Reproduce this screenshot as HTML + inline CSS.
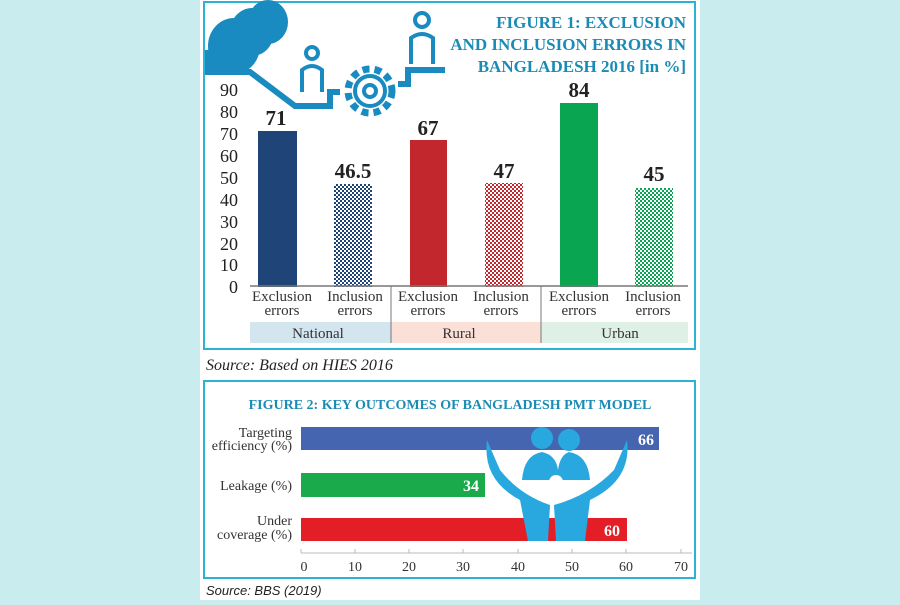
<!DOCTYPE html>
<html><head><meta charset="utf-8"><style>
body{margin:0;background:#c9ecef;width:900px;height:600px;overflow:hidden;font-family:"Liberation Serif",serif}
</style></head><body>
<svg width="900" height="600" xmlns="http://www.w3.org/2000/svg" font-family="Liberation Serif, serif">
<defs>
<pattern id="pn" width="4" height="4" patternUnits="userSpaceOnUse"><rect width="4" height="4" fill="#fff"/><rect width="2" height="2" fill="#1f4478"/><rect x="2" y="2" width="2" height="2" fill="#1f4478"/></pattern>
<pattern id="pr" width="4" height="4" patternUnits="userSpaceOnUse"><rect width="4" height="4" fill="#fff"/><rect width="2" height="2" fill="#c1272d"/><rect x="2" y="2" width="2" height="2" fill="#c1272d"/></pattern>
<pattern id="pg" width="4" height="4" patternUnits="userSpaceOnUse"><rect width="4" height="4" fill="#fff"/><rect width="2" height="2" fill="#0aa550"/><rect x="2" y="2" width="2" height="2" fill="#0aa550"/></pattern>
</defs>
<rect x="200" y="0" width="500" height="600" fill="#fff"/>
<rect x="204" y="2" width="491" height="347" fill="#fff" stroke="#2bb3d6" stroke-width="2"/>
<g fill="#1a8bc0">
<ellipse cx="268" cy="22" rx="20" ry="22"/><ellipse cx="252" cy="32" rx="22" ry="24"/><ellipse cx="234" cy="46" rx="26" ry="28"/>
<rect x="205" y="50" width="40" height="25"/>
</g>
<path d="M205 72 L250 72 L295 106 L330 106 L330 92 L340 92" stroke="#1a8bc0" stroke-width="6" fill="none"/>
<path d="M398 84 L408 84 L408 70 L445 70" stroke="#1a8bc0" stroke-width="6" fill="none"/>
<g stroke="#1a8bc0" stroke-width="4" fill="none">
<circle cx="312" cy="53" r="6"/><path d="M302 92 V70 Q312 62 322 70 V92"/>
<circle cx="422" cy="20" r="7"/><path d="M411 64 V38 Q422 30 433 38 V64"/>
<circle cx="370" cy="91" r="22" stroke-width="7" stroke-dasharray="7 5"/><circle cx="370" cy="91" r="15"/><circle cx="370" cy="91" r="6"/>
</g>
<g fill="#1a8bb5" font-weight="bold" font-size="17" text-anchor="end">
<text x="686" y="28">FIGURE 1: EXCLUSION</text>
<text x="686" y="50">AND INCLUSION ERRORS IN</text>
<text x="686" y="72">BANGLADESH 2016 [in %]</text>
</g>
<g font-size="18" fill="#222" text-anchor="end">
<text x="238" y="96">90</text><text x="238" y="118">80</text><text x="238" y="140">70</text><text x="238" y="162">60</text><text x="238" y="184">50</text><text x="238" y="206">40</text><text x="238" y="228">30</text><text x="238" y="250">20</text><text x="238" y="271">10</text><text x="238" y="293">0</text>
</g>
<rect x="258" y="131" width="39" height="156" fill="#1f4478"/>
<rect x="334" y="184" width="38" height="103" fill="url(#pn)"/>
<rect x="410" y="140" width="37" height="147" fill="#c1272d"/>
<rect x="485" y="183" width="38" height="104" fill="url(#pr)"/>
<rect x="560" y="103" width="38" height="184" fill="#0aa550"/>
<rect x="635" y="188" width="38" height="99" fill="url(#pg)"/>
<g font-size="21" font-weight="bold" fill="#222" text-anchor="middle">
<text x="276" y="125">71</text><text x="353" y="178">46.5</text><text x="428" y="135">67</text><text x="504" y="178">47</text><text x="579" y="97">84</text><text x="654" y="181">45</text>
</g>
<line x1="250" y1="286" x2="688" y2="286" stroke="#777" stroke-width="1.5"/>
<rect x="250" y="322" width="141" height="21" fill="#d3e5ee"/>
<rect x="391" y="322" width="150" height="21" fill="#fbe0d8"/>
<rect x="541" y="322" width="147" height="21" fill="#dff0e6"/>
<line x1="391" y1="286" x2="391" y2="343" stroke="#777"/><line x1="541" y1="286" x2="541" y2="343" stroke="#777"/>
<g font-size="15" fill="#333" text-anchor="middle">
<text x="282" y="301">Exclusion</text><text x="282" y="315">errors</text>
<text x="355" y="301">Inclusion</text><text x="355" y="315">errors</text>
<text x="428" y="301">Exclusion</text><text x="428" y="315">errors</text>
<text x="501" y="301">Inclusion</text><text x="501" y="315">errors</text>
<text x="579" y="301">Exclusion</text><text x="579" y="315">errors</text>
<text x="653" y="301">Inclusion</text><text x="653" y="315">errors</text>
<text x="318" y="338">National</text><text x="459" y="338">Rural</text><text x="620" y="338">Urban</text>
</g>
<text x="206" y="370" font-size="16" font-style="italic" fill="#222">Source: Based on HIES 2016</text>
<rect x="204" y="381" width="491" height="197" fill="#fff" stroke="#2bb3d6" stroke-width="2"/>
<text x="450" y="409" font-size="14" font-weight="bold" fill="#1a8bb5" text-anchor="middle">FIGURE 2: KEY OUTCOMES OF BANGLADESH PMT MODEL</text>
<rect x="301" y="427" width="358" height="23" fill="#4565b0"/>
<rect x="301" y="473" width="184" height="24" fill="#1aaa4b"/>
<rect x="301" y="518" width="326" height="23" fill="#e41e26"/>
<g fill="#29a8df">
<circle cx="542" cy="438" r="11"/><circle cx="569" cy="440" r="11"/>
<path d="M522 480 Q524 455 542 452 Q556 455 558 470 Q560 455 569 452 Q588 455 590 480 Z"/>
<path d="M487 440 Q482 480 520 500 L528 541 L548 541 L550 505 Q520 495 500 470 Z"/>
<path d="M627 440 Q632 480 590 500 L585 541 L556 541 L554 505 Q590 495 614 470 Z"/>
</g>
<circle cx="556" cy="482" r="7" fill="#fff"/>
<g font-size="16" font-weight="bold" fill="#fff" text-anchor="end">
<text x="654" y="445">66</text><text x="479" y="491">34</text><text x="620" y="536">60</text>
</g>
<g font-size="14" fill="#333" text-anchor="end">
<text x="292" y="437">Targeting</text><text x="292" y="450">efficiency (%)</text>
<text x="292" y="490">Leakage (%)</text>
<text x="292" y="525">Under</text><text x="292" y="539">coverage (%)</text>
</g>
<line x1="301" y1="553" x2="692" y2="553" stroke="#bbb"/>
<g stroke="#bbb"><line x1="301" y1="549" x2="301" y2="553"/><line x1="355" y1="549" x2="355" y2="553"/><line x1="409" y1="549" x2="409" y2="553"/><line x1="463" y1="549" x2="463" y2="553"/><line x1="518" y1="549" x2="518" y2="553"/><line x1="572" y1="549" x2="572" y2="553"/><line x1="626" y1="549" x2="626" y2="553"/><line x1="681" y1="549" x2="681" y2="553"/></g>
<g font-size="14" fill="#333" text-anchor="middle">
<text x="304" y="571">0</text><text x="355" y="571">10</text><text x="409" y="571">20</text><text x="463" y="571">30</text><text x="518" y="571">40</text><text x="572" y="571">50</text><text x="626" y="571">60</text><text x="681" y="571">70</text>
</g>
<text x="206" y="595" font-size="13" font-style="italic" fill="#222" font-family="Liberation Sans, sans-serif">Source: BBS (2019)</text>
</svg>
</body></html>
